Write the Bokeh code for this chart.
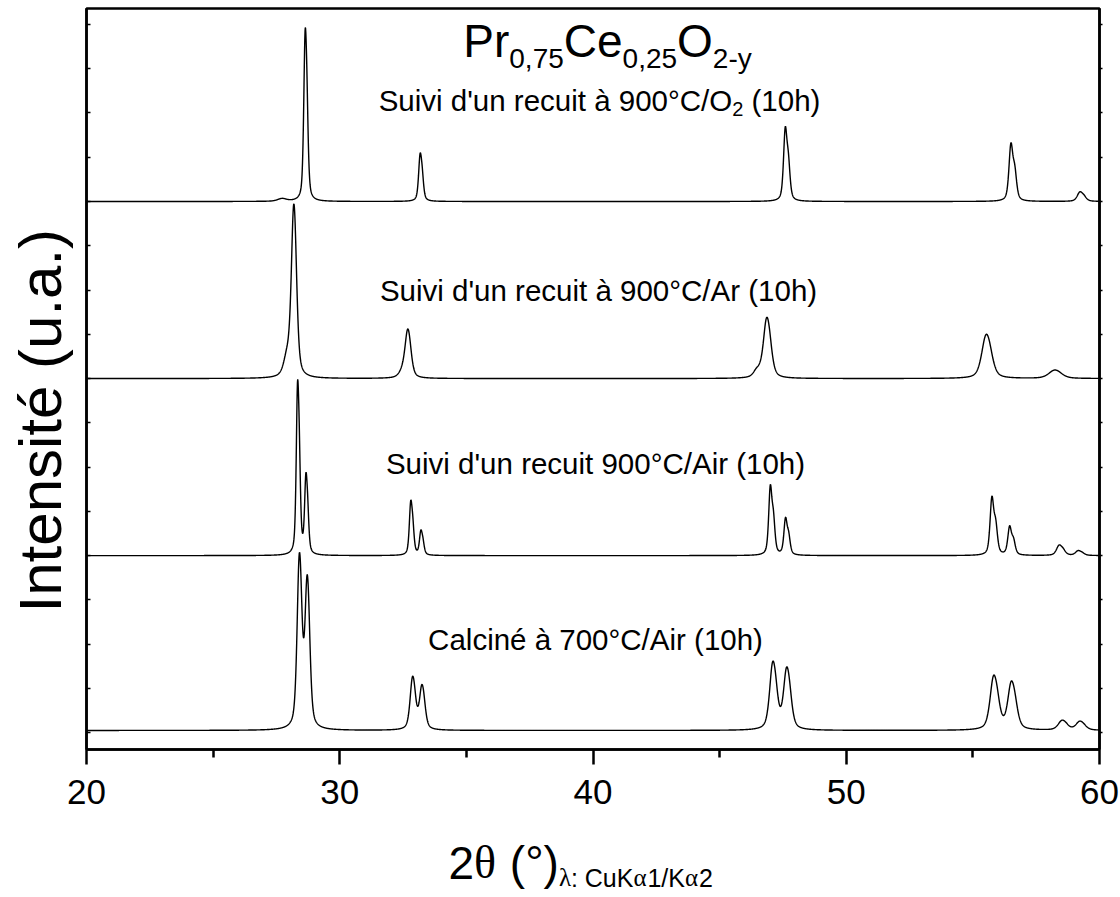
import numpy as np
from bokeh.plotting import figure
from bokeh.layouts import column
from bokeh.models import Label, LinearAxis, FixedTicker, Range1d, CustomJSTickFormatter
from bokeh.embed import file_html
from bokeh.resources import INLINE

# ---------------- data ----------------
x_ticks = [20, 30, 40, 50, 60]
x_minor = [25, 35, 45, 55]
y_ticks = list(range(0, 17))

series_labels = ["Calciné à 700°C/Air (10h)",
                 "Suivi d'un recuit 900°C/Air (10h)",
                 "Suivi d'un recuit à 900°C/Ar (10h)",
                 "Suivi d'un recuit à 900°C/O2 (10h)"]
baselines = [0.05, 4.0, 8.0, 12.0]

# peak positions (2theta), apparent heights, widths (FWHM)
calc_pos = [28.39, 28.70, 32.86, 33.23, 47.08, 47.63, 55.80, 56.50, 58.50, 59.20]
calc_h = [3.85, 3.30, 1.18, 0.98, 1.52, 1.38, 1.22, 1.08, 0.22, 0.20]
calc_w = [0.20, 0.20, 0.22, 0.22, 0.28, 0.28, 0.32, 0.32, 0.35, 0.35]

air_pos = [28.33, 28.66, 32.80, 33.20, 47.00, 47.60, 55.75, 56.45, 58.40, 59.15]
air_h = [3.95, 1.80, 1.25, 0.56, 1.60, 0.85, 1.34, 0.66, 0.24, 0.11]
air_w = [0.12, 0.12, 0.13, 0.13, 0.15, 0.15, 0.17, 0.17, 0.25, 0.25]

ar_pos = [27.90, 28.17, 32.45, 32.67, 46.45, 46.84, 55.50, 58.20]
ar_h = [0.40, 3.87, 0.12, 1.08, 0.15, 1.37, 1.00, 0.19]
ar_w = [0.30, 0.22, 0.30, 0.25, 0.30, 0.30, 0.40, 0.55]

o2_pos = [27.70, 28.63, 33.17, 47.59, 56.50, 59.22]
o2_h = [0.06, 3.93, 1.10, 1.70, 1.33, 0.22]
o2_w = [0.40, 0.13, 0.14, 0.16, 0.18, 0.25]

# ---------------- profile rendering ----------------
LAM1, LAM2 = 1.54056, 1.54439
tt = np.linspace(20, 60, 4001)


def pv(x, x0, w, eta=0.5):
    u = (x - x0) / (w / 2.0)
    return eta / (1 + u * u) + (1 - eta) * np.exp(-np.log(2) * u * u)


def pattern(pos, h, w, base):
    y = np.full_like(tt, base)
    for x0, a, fw in zip(pos, h, w):
        th = np.radians(x0 / 2)
        x2 = 2 * np.degrees(np.arcsin(LAM2 / LAM1 * np.sin(th)))
        prof = pv(tt, x0, fw) + 0.5 * pv(tt, x2, fw)
        y += a * prof / prof.max()
    return y


curves = [pattern(calc_pos, calc_h, calc_w, baselines[0]),
          pattern(air_pos, air_h, air_w, baselines[1]),
          pattern(ar_pos, ar_h, ar_w, baselines[2]),
          pattern(o2_pos, o2_h, o2_w, baselines[3])]

# ---------------- layout constants ----------------
W = 1120
H_MAIN = 830
H_XLAB = 897 - H_MAIN
BL, BR, BT, BB = 86, 21, 8, 81
X0, X1 = 20, 60
Y0, Y1 = -0.38, 16.36
FRAME_W = W - BL - BR
FRAME_H = H_MAIN - BT - BB
PPX = FRAME_W / (X1 - X0)
PPY = FRAME_H / (Y1 - Y0)

SANS = "Liberation Sans"
SERIF = "Liberation Serif"

p = figure(width=W, height=H_MAIN, x_range=Range1d(X0, X1), y_range=Range1d(Y0, Y1),
           output_backend="svg", toolbar_location=None,
           min_border_left=BL, min_border_right=BR, min_border_top=BT, min_border_bottom=BB)
p.background_fill_color = "white"
p.border_fill_color = "white"
p.grid.visible = False
p.outline_line_color = "black"
p.outline_line_width = 2.5

for c in curves:
    p.line(tt, c, line_color="black", line_width=1.4)

# x axis
xa = p.xaxis[0]
xa.ticker = FixedTicker(ticks=x_ticks, minor_ticks=x_minor)
xa.major_tick_out = 15
xa.major_tick_in = 0
xa.minor_tick_out = 8
xa.minor_tick_in = 0
xa.major_tick_line_width = 2.5
xa.minor_tick_line_width = 2.5
xa.axis_line_width = 2.5
xa.major_label_text_font = SANS
xa.major_label_text_font_size = "35px"
xa.major_label_text_color = "black"
xa.major_label_standoff = 15

blank = CustomJSTickFormatter(code="return ''")
ya = p.yaxis[0]
ya.ticker = FixedTicker(ticks=y_ticks, minor_ticks=[])
ya.major_tick_in = 4
ya.major_tick_out = 0
ya.major_tick_line_width = 1.5
ya.axis_line_width = 2.5
ya.formatter = blank
ya.major_label_standoff = 0
# trailing no-break spaces shift the rotated label downwards, as in the reference
ya.axis_label = "Intensité (u.a.)" + "\u00a0" * 5
ya.axis_label_text_font = SANS
ya.axis_label_text_font_style = "normal"
ya.axis_label_text_font_size = "60px"
ya.axis_label_text_color = "black"
ya.axis_label_standoff = 13

ra = LinearAxis(ticker=FixedTicker(ticks=y_ticks, minor_ticks=[]), formatter=blank)
ra.major_tick_out = 3
ra.major_tick_in = 0
ra.major_tick_line_width = 1.5
ra.axis_line_width = 2.5
ra.major_label_standoff = 0
p.add_layout(ra, "right")

# ---------------- text helpers ----------------
ARIAL = {' ': 278, "'": 191, '(': 333, ')': 333, ',': 278, '-': 333, '.': 278, '/': 278,
         ':': 278, '°': 400, 'A': 667, 'C': 722, 'I': 278, 'K': 667, 'O': 778, 'P': 667,
         'S': 667, 'a': 556, 'c': 500, 'd': 556, 'e': 556, 'h': 556, 'i': 222, 'l': 222,
         'n': 556, 'r': 333, 's': 500, 't': 278, 'u': 556, 'v': 500, 'y': 500, 'à': 556,
         'é': 556, 'θ': 500, 'λ': 480, 'α': 560}


def tw(s, size):
    return sum(ARIAL.get(ch, 556) for ch in s) / 1000.0 * size


def runs_label(fig, x, y, runs, align="center"):
    total = sum(tw(t, s) for t, s, f, dy in runs)
    off = -total / 2 if align == "center" else 0
    for t, s, f, dy in runs:
        lead = len(t) - len(t.lstrip(" "))
        fig.add_layout(Label(x=x, y=y, x_offset=off + tw(" " * lead, s), y_offset=dy,
                             text=t.strip(" "), text_font=f, text_font_size=f"{s}px",
                             text_color="black", text_align="left",
                             text_baseline="alphabetic"))
        off += tw(t, s)


def xd(xp):
    return X0 + (xp - BL) / PPX


def yd(yp):
    return Y1 - (yp - BT) / PPY


# title
runs_label(p, xd(607), yd(40),
           [("Pr", 46, SANS, 0), ("0,75", 28, SANS, -18), ("Ce", 46, SANS, 0),
            ("0,25", 28, SANS, -18), ("O", 46, SANS, 0), ("2-y", 28, SANS, -18)])

# series labels
runs_label(p, xd(599), yd(100), [("Suivi d'un recuit à 900°C/O", 29.5, SANS, 0),
                                 ("2", 20, SANS, -8), (" (10h)", 29.5, SANS, 0)])
runs_label(p, xd(598), yd(290), [(series_labels[2], 29.5, SANS, 0)])
runs_label(p, xd(595), yd(463), [(series_labels[1], 29.5, SANS, 0)])
runs_label(p, xd(595), yd(639), [(series_labels[0], 29.5, SANS, 0)])

# ---------------- x-axis title strip (page pixel coordinates) ----------------
q = figure(width=W, height=H_XLAB, x_range=Range1d(BL, W - BR),
           y_range=Range1d(H_MAIN + H_XLAB, H_MAIN),
           output_backend="svg", toolbar_location=None,
           x_axis_type=None, y_axis_type=None,
           min_border_left=BL, min_border_right=BR, min_border_top=0, min_border_bottom=0)
q.outline_line_color = None
q.grid.visible = False
q.background_fill_color = "white"
q.border_fill_color = "white"
q.title.visible = False

runs_label(q, 448, 862, [("2", 46, SANS, 0), ("θ", 46, SERIF, 0), (" (°)", 46, SANS, 0),
                         ("λ", 25, SERIF, -15), (": CuK", 25, SANS, -15), ("α", 25, SERIF, -15),
                         ("1/K", 25, SANS, -15), ("α", 25, SERIF, -15), ("2", 25, SANS, -15)],
           align="left")

layout = column(p, q, spacing=0)
open("out.html", "w").write(file_html(layout, INLINE))
